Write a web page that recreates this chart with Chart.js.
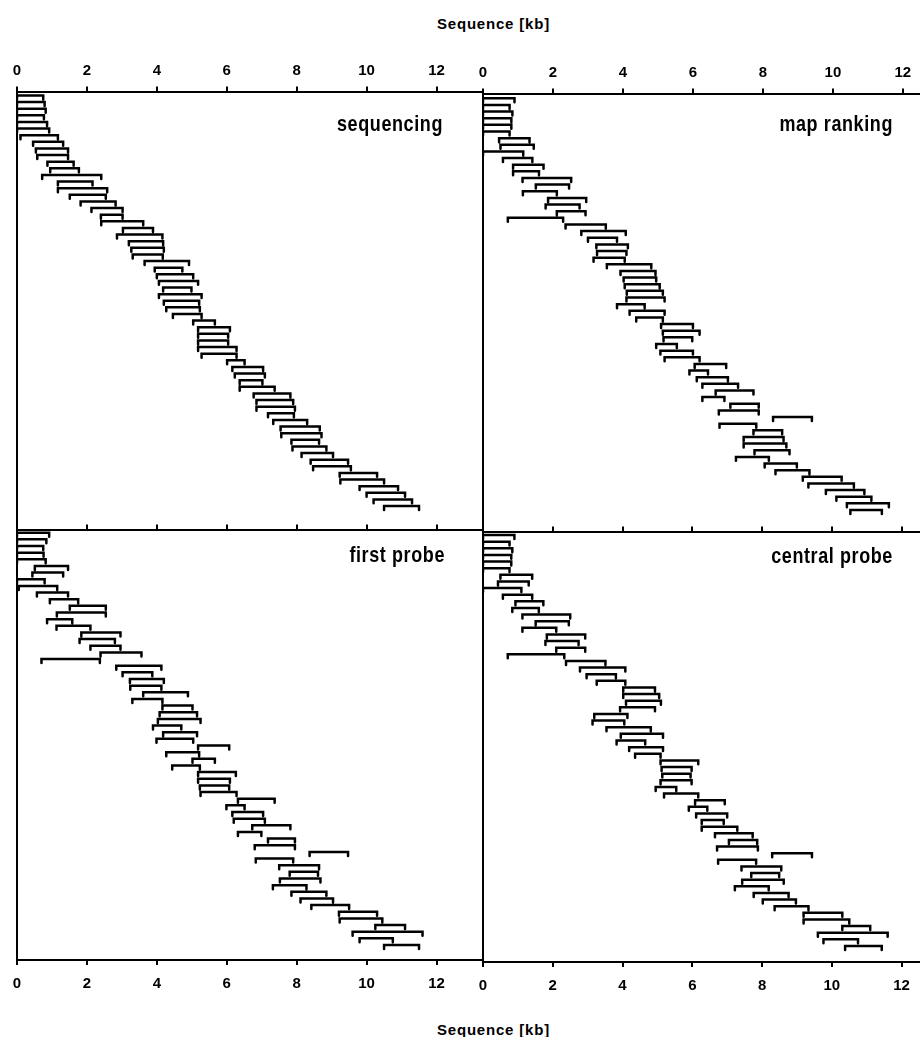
<!DOCTYPE html>
<html>
<head>
<meta charset="utf-8">
<title>Sequence [kb]</title>
<script src="https://cdn.jsdelivr.net/npm/chart.js@4.4.1/dist/chart.umd.min.js"></script>
<style>
  html, body { margin: 0; padding: 0; background: #fff; }
  #page { position: relative; width: 920px; height: 1037px; overflow: hidden;
          font-family: "Liberation Sans", Arial, sans-serif; color: #000; }
  canvas { position: absolute; }
  .txt { position: absolute; font-weight: bold; white-space: nowrap; }
  .axis-title { font-size: 15px; line-height: 15px; letter-spacing: 0.8px; }
  .panel-name { font-size: 18px; line-height: 18px; letter-spacing: 0.6px;
                transform: scaleY(1.2); transform-origin: 50% 15px; }
</style>
</head>
<body>
<div id="page">
  <div class="txt axis-title" style="left:437px; top:16px;">Sequence [kb]</div>
  <div class="txt axis-title" style="left:437px; top:1022px;">Sequence [kb]</div>
  <canvas id="cSeq"></canvas>
  <canvas id="cMap"></canvas>
  <canvas id="cFirst"></canvas>
  <canvas id="cCentral"></canvas>
  <div class="txt panel-name" id="n0" style="right:477px; top:116px;"></div>
  <div class="txt panel-name" id="n1" style="right:27px; top:116px;"></div>
  <div class="txt panel-name" id="n2" style="right:475px; top:547px;"></div>
  <div class="txt panel-name" id="n3" style="right:27px; top:548px;"></div>
</div>
<script>
// ---- data (kb) ----
const kbTicks = [0, 2, 4, 6, 8, 10, 12];
const panelNames = ['sequencing', 'map ranking', 'first probe', 'central probe'];

// sequencing
const seqStart = [0, 0, 0, 0, 0, 0, 0.1, 0.46, 0.54, 0.58, 0.87, 0.95, 0.72, 1.17, 1.17, 1.51,
  1.82, 2.13, 2.4, 2.41, 3.03, 2.86, 3.2, 3.27, 3.31, 3.65, 3.94, 4.0, 4.06, 4.18, 4.06, 4.2,
  4.27, 4.46, 5.04, 5.18, 5.18, 5.18, 5.18, 5.28, 6.01, 6.16, 6.23, 6.37, 6.37, 6.77, 6.85,
  6.85, 7.18, 7.33, 7.54, 7.56, 7.85, 7.88, 8.14, 8.4, 8.47, 9.23, 9.25, 9.8, 10.0, 10.2, 10.5];
const seqEnd = [0.75, 0.79, 0.82, 0.77, 0.86, 0.92, 1.17, 1.32, 1.46, 1.46, 1.62, 1.77, 2.41,
  2.16, 2.58, 2.54, 2.82, 3.02, 3.02, 3.61, 3.89, 4.16, 4.18, 4.2, 4.17, 4.92, 4.73, 5.04, 5.18,
  4.99, 5.28, 5.21, 5.23, 5.28, 5.66, 6.09, 6.04, 6.04, 6.28, 6.28, 6.51, 7.04, 7.09, 7.02,
  7.37, 7.82, 7.9, 7.95, 7.92, 8.3, 8.66, 8.71, 8.64, 8.85, 9.04, 9.47, 9.55, 10.3, 10.5, 10.9,
  11.1, 11.3, 11.5];

// map ranking
const mapStart = [0, 0, 0, 0, 0, 0, 0.46, 0.5, 0, 0.57, 0.86, 0.86, 1.13, 1.51, 1.14, 1.86,
  1.79, 2.11, 0.71, 2.36, 2.81, 3.0, 3.24, 3.26, 3.16, 3.54, 3.93, 4.02, 4.05, 4.11, 4.1, 3.83,
  4.19, 4.38, 5.09, 5.14, 5.16, 4.95, 5.07, 5.19, 6.05, 5.9, 6.11, 6.27, 6.65, 6.27, 7.07, 6.74,
  8.29, 6.76, 7.73, 7.45, 7.45, 7.76, 7.23, 8.05, 8.36, 9.14, 9.3, 9.8, 10.1, 10.4, 10.5];
const mapEnd = [0.9, 0.76, 0.84, 0.81, 0.81, 0.76, 1.33, 1.45, 1.15, 1.41, 1.73, 1.6, 2.52,
  2.46, 2.11, 2.95, 2.76, 2.93, 2.29, 3.51, 4.08, 3.83, 4.14, 4.1, 4.05, 4.81, 4.93, 4.95, 5.05,
  5.14, 5.19, 4.62, 5.19, 5.14, 6.0, 6.19, 5.98, 5.54, 6.0, 6.19, 6.95, 6.43, 7.0, 7.29, 7.73,
  6.9, 7.88, 7.88, 9.4, 7.81, 8.55, 8.59, 8.67, 8.76, 8.17, 8.97, 9.33, 10.25, 10.6, 10.9, 11.1,
  11.6, 11.4];

// first probe
const firstStart = [0, 0, 0, 0, 0, 0.51, 0.44, 0, 0.05, 0.57, 0.94, 1.51, 1.14, 0.86, 1.13,
  1.84, 1.79, 2.1, 2.39, 0.7, 2.84, 3.02, 3.23, 3.24, 3.61, 3.3, 4.16, 4.08, 4.03, 3.89, 4.18,
  3.99, 5.18, 4.27, 5.02, 4.44, 5.18, 5.18, 5.23, 5.25, 6.32, 5.99, 6.16, 6.2, 6.73, 6.32, 7.18,
  6.8, 8.37, 6.83, 7.5, 7.8, 7.52, 7.32, 7.85, 8.11, 8.42, 9.21, 9.23, 10.25, 9.6, 9.8, 10.5];
const firstEnd = [0.92, 0.84, 0.75, 0.76, 0.82, 1.46, 1.32, 0.79, 1.15, 1.46, 1.75, 2.54, 2.54,
  1.58, 2.1, 2.96, 2.8, 2.96, 3.56, 2.37, 4.13, 3.87, 4.2, 4.13, 4.89, 4.16, 5.02, 5.15, 5.25,
  4.7, 5.15, 5.04, 6.07, 5.21, 5.66, 5.23, 6.26, 6.09, 6.07, 6.28, 7.37, 6.51, 7.04, 7.09, 7.82,
  6.99, 7.95, 7.95, 9.47, 7.9, 8.64, 8.61, 8.68, 8.28, 8.85, 9.04, 9.5, 10.3, 10.45, 11.1, 11.6,
  10.75, 11.5];

// central probe
const centralStart = [0, 0, 0, 0, 0, 0, 0.5, 0.43, 0, 0.57, 0.93, 0.84, 1.13, 1.51, 1.13, 1.83,
  1.79, 2.1, 0.71, 2.38, 2.78, 2.97, 3.26, 4.02, 4.02, 4.1, 3.93, 3.19, 3.14, 3.54, 3.95, 3.83,
  4.19, 4.36, 5.09, 5.12, 5.14, 5.09, 4.95, 5.19, 6.08, 5.9, 6.11, 6.27, 6.27, 6.65, 7.05, 6.71,
  8.29, 6.74, 7.41, 7.69, 7.43, 7.22, 7.76, 8.02, 8.36, 9.19, 9.19, 10.3, 9.6, 9.76, 10.38];
const centralEnd = [0.9, 0.76, 0.84, 0.81, 0.81, 0.76, 1.41, 1.31, 1.1, 1.41, 1.73, 1.6, 2.5,
  2.46, 2.1, 2.93, 2.74, 2.93, 2.33, 3.51, 4.08, 3.81, 4.08, 4.93, 5.05, 5.1, 4.93, 4.14, 4.05,
  4.81, 5.16, 4.65, 5.16, 5.09, 6.17, 5.98, 5.95, 5.98, 5.54, 6.17, 6.93, 6.43, 7.0, 6.9, 7.29,
  7.73, 7.86, 7.88, 9.43, 7.83, 8.55, 8.49, 8.62, 8.19, 8.76, 8.97, 9.33, 10.3, 10.5, 11.1, 11.6,
  10.75, 11.43];

// ---- drawing ----
const TICK = 0.6;   // length of the bracket end marks, in rows
const axisFont = { family: "'Liberation Sans', Arial, sans-serif", size: 15, weight: 'bold' };

// one bracket per row: down-tick, bar, down-tick, then a gap
function bracketPoints(starts, ends) {
  const pts = [];
  starts.forEach((s, i) => {
    const row = i + 1;
    const e = ends[i];
    pts.push({ x: s, y: row + TICK }, { x: s, y: row }, { x: e, y: row }, { x: e, y: row + TICK });
    pts.push({ x: null, y: null });
  });
  return pts;
}

function kbAxis(position, max, size, showLabels, pad) {
  return {
    type: 'linear',
    position: position,
    min: 0,
    max: max,
    afterBuildTicks: s => { s.ticks = kbTicks.map(v => ({ value: v })); },
    afterFit: s => { s.height = size; },
    ticks: { display: showLabels, color: '#000', font: axisFont, padding: pad, maxRotation: 0, autoSkip: false },
    grid: { display: true, drawOnChartArea: false, drawTicks: true, tickLength: 5, color: '#000', lineWidth: 2 },
    border: { display: true, color: '#000', width: 2 }
  };
}

// layout of the four panels (canvas box, axis bands, first/last row pixel)
const panels = [
  { id: 'cSeq', starts: seqStart, ends: seqEnd, left: 0, top: 0, width: 483, height: 530,
    xMax: 13.33, topH: 91.5, bottomH: 0, firstRow: 95.5, lastRow: 506, labelsTop: true },
  { id: 'cMap', starts: mapStart, ends: mapEnd, left: 466, top: 2, width: 454, height: 530,
    xMax: 12.49, topH: 91.5, bottomH: 0, firstRow: 96.3, lastRow: 508, labelsTop: true },
  { id: 'cFirst', starts: firstStart, ends: firstEnd, left: 0, top: 480, width: 483, height: 557,
    xMax: 13.33, topH: 49.5, bottomH: 77, firstRow: 52.7, lastRow: 465, labelsTop: false },
  { id: 'cCentral', starts: centralStart, ends: centralEnd, left: 466, top: 482, width: 454, height: 555,
    xMax: 12.49, topH: 49.5, bottomH: 75, firstRow: 53, lastRow: 464, labelsTop: false }
];

panels.forEach((p, k) => {
  document.getElementById('n' + k).textContent = panelNames[k];

  const canvas = document.getElementById(p.id);
  canvas.width = p.width;
  canvas.height = p.height;
  canvas.style.left = p.left + 'px';
  canvas.style.top = p.top + 'px';

  const n = p.starts.length;
  const areaTop = p.topH;
  const areaBottom = p.height - p.bottomH;
  const rowGap = (p.lastRow - p.firstRow) / (n - 1);
  const yMin = 1 - (p.firstRow - areaTop) / rowGap;
  const yMax = n + (areaBottom - p.lastRow) / rowGap;

  const scales = {
    x: p.labelsTop ? kbAxis('top', p.xMax, p.topH, true, 7) : kbAxis('bottom', p.xMax, p.bottomH, true, 10),
    y: {
      type: 'linear', reverse: true, min: yMin, max: yMax,
      ticks: { display: false },
      grid: { display: false },
      border: { display: true, color: '#000', width: 2 },
      afterFit: s => { s.width = 0; }
    }
  };
  if (!p.labelsTop) scales.xTop = kbAxis('top', p.xMax, p.topH, false, 7);

  new Chart(canvas, {
    type: 'scatter',
    data: {
      datasets: [{
        data: bracketPoints(p.starts, p.ends),
        showLine: true,
        spanGaps: false,
        borderColor: '#000',
        borderWidth: 2.5,
        borderCapStyle: 'round',
        borderJoinStyle: 'miter',
        pointRadius: 0,
        pointHoverRadius: 0,
        tension: 0,
        fill: false
      }]
    },
    options: {
      responsive: false,
      animation: false,
      devicePixelRatio: 1,
      events: [],
      layout: { padding: { left: 17, right: 0, top: 0, bottom: 0 } },
      plugins: { legend: { display: false }, tooltip: { enabled: false } },
      scales: scales
    }
  });
});
</script>
</body>
</html>
